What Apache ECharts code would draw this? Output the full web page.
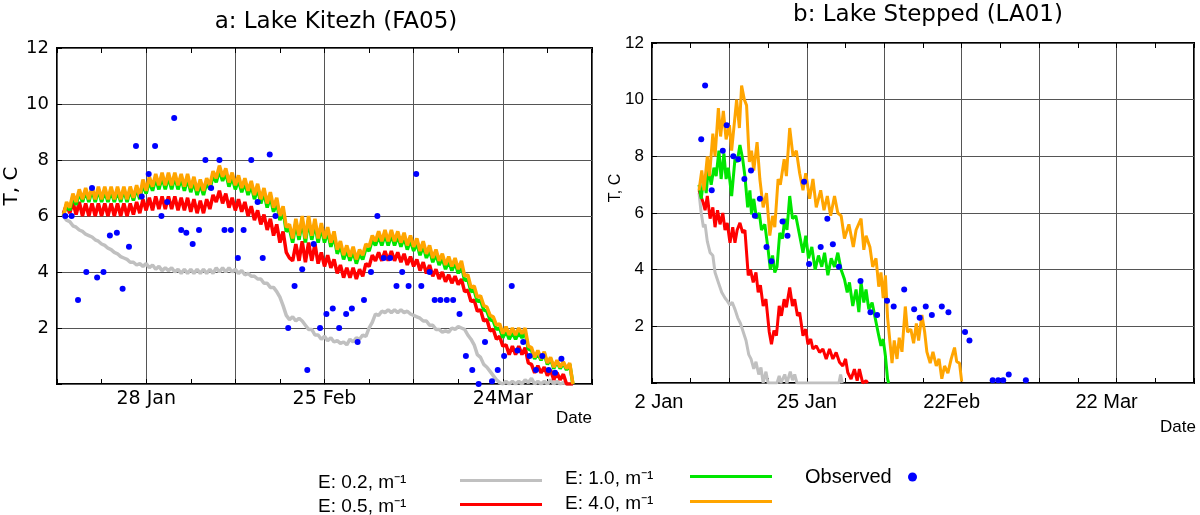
<!DOCTYPE html>
<html>
<head>
<meta charset="utf-8">
<title>Lake Kitezh / Lake Stepped</title>
<script src="https://cdn.jsdelivr.net/npm/echarts@6.0.0/dist/echarts.min.js"></script>
<style>
    html, body { margin: 0; padding: 0; background: #fff; }
    #main { width: 1200px; height: 515px; }
</style>
</head>
<body>
<div id="main"></div>
<script>
// ---- data ----
// a: Lake Kitezh, model runs sampled every half day from day 1 (day 0 = 14 Jan)
var kitezhFirstDay = 1;
var kitezhHalfDay = 0.5;
var kitezhE02 = [
    6.0,5.85,5.8,5.65,5.6,5.5,5.45,5.35,5.3,5.25,
    5.15,5.1,5.0,4.95,4.85,4.8,4.7,4.65,4.55,4.5,
    4.45,4.35,4.35,4.25,4.3,4.2,4.3,4.15,4.25,4.1,
    4.2,4.05,4.15,4.05,4.15,4.0,4.1,3.95,4.1,3.95,
    4.1,3.95,4.1,3.95,4.1,3.95,4.1,3.95,4.15,4.0,
    4.15,4.0,4.15,4.0,4.1,3.95,4.05,3.9,3.95,3.85,
    3.85,3.75,3.75,3.6,3.6,3.45,3.45,3.3,3.1,2.8,
    2.45,2.3,2.4,2.25,2.35,2.25,2.1,1.95,1.95,1.75,
    1.75,1.6,1.7,1.55,1.65,1.5,1.55,1.45,1.5,1.4,
    1.6,1.5,1.65,1.6,1.75,1.7,2.0,2.2,2.5,2.45,
    2.6,2.55,2.65,2.55,2.65,2.55,2.65,2.55,2.6,2.5,
    2.45,2.4,2.35,2.25,2.25,2.1,2.1,1.95,1.95,1.85,
    1.9,1.85,2.0,1.95,2.05,2.0,1.95,1.75,1.6,1.4,
    1.05,0.95,0.7,0.6,0.45,0.3,0.15,0.05,0.0,0.1,
    0.0,0.1,0.0,0.1,0.0,0.15,0.05,0.2,0.0,0.1,
    0.0,0.1,0.0,0.15,0.0,0.1,0.0,0.05,0.0,0.0,
    0.0
];
var kitezhE05 = [
    6.1,6.4,6.1,6.5,6.05,6.5,6.0,6.45,6.0,6.45,
    6.0,6.45,6.0,6.45,6.0,6.45,6.0,6.45,6.0,6.45,
    6.0,6.45,6.05,6.5,6.1,6.6,6.2,6.65,6.2,6.7,
    6.25,6.7,6.25,6.7,6.25,6.7,6.2,6.65,6.2,6.65,
    6.15,6.6,6.1,6.55,6.1,6.6,6.25,6.75,6.5,6.9,
    6.45,6.8,6.3,6.65,6.2,6.6,6.15,6.5,6.0,6.35,
    5.85,6.2,5.7,6.05,5.5,5.9,5.3,5.7,5.05,5.45,
    4.7,4.5,4.4,5.0,4.4,5.1,4.35,5.05,4.4,5.0,
    4.3,4.7,4.2,4.6,4.15,4.45,3.95,4.25,3.8,4.15,
    3.8,4.15,3.75,4.1,3.85,4.3,4.2,4.6,4.4,4.7,
    4.4,4.75,4.4,4.75,4.4,4.7,4.35,4.65,4.25,4.55,
    4.2,4.45,4.05,4.35,3.95,4.25,3.85,4.1,3.75,4.0,
    3.65,3.9,3.6,3.85,3.55,3.75,3.3,3.35,2.95,3.0,
    2.6,2.65,2.25,2.3,1.9,1.95,1.6,1.7,1.35,1.4,
    1.05,1.35,1.05,1.35,1.05,1.3,0.75,0.7,0.4,0.65,
    0.4,0.6,0.3,0.5,0.15,0.4,0.15,0.35,0.0,0.0,
    0.0
];
var kitezhE10 = [
    6.0,6.4,6.2,6.7,6.4,6.85,6.5,6.9,6.5,6.95,
    6.5,6.95,6.5,6.9,6.5,6.9,6.5,6.9,6.5,6.95,
    6.5,6.95,6.55,7.0,6.6,7.15,6.8,7.25,6.9,7.35,
    6.95,7.4,6.95,7.4,6.95,7.4,6.95,7.35,6.9,7.35,
    6.85,7.25,6.75,7.15,6.75,7.2,6.95,7.45,7.2,7.65,
    7.25,7.55,7.05,7.4,6.95,7.3,6.85,7.2,6.75,7.1,
    6.6,7.0,6.45,6.85,6.3,6.7,6.15,6.5,5.85,6.2,
    5.45,5.55,5.05,5.75,5.15,5.85,5.05,5.85,5.15,5.75,
    5.05,5.6,5.05,5.45,4.9,5.3,4.65,4.95,4.45,4.8,
    4.4,4.75,4.3,4.65,4.45,4.85,4.75,5.15,4.95,5.3,
    4.95,5.35,4.95,5.35,4.95,5.3,4.9,5.25,4.8,5.15,
    4.75,5.05,4.6,4.95,4.5,4.8,4.35,4.65,4.25,4.5,
    4.1,4.4,4.05,4.35,3.95,4.25,3.7,3.75,3.3,3.35,
    2.95,3.0,2.65,2.6,2.3,2.25,1.95,2.0,1.65,1.9,
    1.6,1.85,1.6,1.85,1.65,1.85,1.25,1.2,0.9,1.1,
    0.85,1.1,0.7,0.9,0.55,0.8,0.55,0.75,0.5,0.7,
    0.0
];
var kitezhE40 = [
    6.0,6.5,6.3,6.8,6.5,6.95,6.6,7.0,6.6,7.05,
    6.6,7.05,6.6,7.05,6.6,7.05,6.6,7.05,6.6,7.05,
    6.6,7.05,6.65,7.1,6.7,7.3,6.9,7.4,7.05,7.5,
    7.1,7.55,7.1,7.55,7.1,7.55,7.1,7.5,7.05,7.5,
    7.0,7.4,6.9,7.3,6.9,7.35,7.1,7.6,7.35,7.8,
    7.4,7.7,7.2,7.55,7.1,7.45,7.0,7.35,6.9,7.25,
    6.75,7.15,6.6,7.0,6.45,6.85,6.3,6.65,6.0,6.35,
    5.6,5.7,5.2,5.9,5.3,6.0,5.2,6.0,5.3,5.9,
    5.2,5.75,5.2,5.6,5.05,5.45,4.8,5.1,4.6,4.95,
    4.55,4.9,4.45,4.8,4.6,5.0,4.9,5.3,5.1,5.45,
    5.1,5.5,5.1,5.5,5.1,5.45,5.05,5.4,4.95,5.3,
    4.9,5.2,4.75,5.1,4.65,4.95,4.5,4.8,4.4,4.65,
    4.25,4.55,4.2,4.5,4.1,4.4,3.85,3.9,3.45,3.5,
    3.1,3.15,2.8,2.75,2.45,2.4,2.1,2.15,1.8,2.05,
    1.75,2.0,1.75,2.0,1.8,2.0,1.35,1.3,0.95,1.2,
    0.9,1.15,0.75,0.95,0.6,0.85,0.6,0.8,0.55,0.75,
    0.0
];
var kitezhObsDay = [
    1.3,2.3,3.3,4.6,5.5,6.3,7.3,8.3,9.4,10.3,
    11.3,12.4,13.3,14.4,15.4,16.4,17.3,18.4,19.5,20.3,
    21.3,22.3,23.3,24.2,25.5,26.3,27.3,28.4,29.3,30.5,
    31.5,32.3,33.4,34.3,36.3,37.3,38.5,39.3,40.3,41.3,
    42.3,43.3,44.3,45.4,46.3,47.2,48.2,49.3,50.3,51.3,
    52.3,53.3,54.2,55.2,56.4,57.2,58.5,59.3,60.2,61.2,
    62.2,63.2,64.2,65.2,66.2,67.2,68.3,69.2,70.2,71.4,
    72.3,73.2,74.2,75.2,76.2,77.2,78.2,79.2
];
var kitezhObsT = [
    6.0,6.0,3.0,4.0,7.0,3.8,4.0,5.3,5.4,3.4,
    4.9,8.5,6.7,7.5,8.5,6.0,6.5,9.5,5.5,5.4,
    5.0,5.5,8.0,7.0,8.0,5.5,5.5,4.5,5.5,8.0,
    6.5,4.5,8.2,6.0,2.0,3.5,4.1,0.5,5.0,2.0,
    2.5,2.7,2.0,2.5,2.7,1.5,3.0,4.0,6.0,4.5,
    4.5,3.5,4.0,3.5,7.5,3.5,4.0,3.0,3.0,3.0,
    3.0,2.5,1.0,0.5,0.0,1.5,0.1,0.5,1.0,3.5,
    1.2,1.5,1.0,0.5,1.0,0.5,0.4,0.9
];
var kitezhLabelDays = [14, 42, 70];
var kitezhLabelText = ['28 Jan', '25 Feb', '24Mar'];

// b: Lake Stepped, [day, T] turning points of the model runs
var steppedE02 = [[8.5,6.7],[8.9,6.0],[9.3,5.5],[9.6,5.6],[10.0,5.0],[10.5,4.6],[11.0,4.5],[11.4,3.9],
    [12.0,3.55],[12.6,3.2],[13.2,3.0],[13.6,2.9],[14.1,2.75],[14.5,2.85],[15.0,2.6],[15.5,2.3],[16.0,2.1],
    [16.5,1.8],[17.0,1.5],[17.5,1.0],[17.9,0.85],[18.4,0.5],[18.8,0.75],[19.3,0.3],[19.7,0.55],[20.1,0.0],
    [20.6,0.4],[21.0,0.0],[22.6,0.0],[23.0,0.25],[23.3,0.0],[24.0,0.3],[24.4,0.0],[25.0,0.4],[25.4,0.1],
    [25.8,0.3],[26.2,0.0],[33.8,0.0],[34.1,0.3],[34.4,0.0]];
var steppedE05 = [[8.5,6.8],[9.2,6.4],[9.6,6.1],[10.0,6.6],[10.5,5.8],[11.0,6.2],[11.4,5.5],[11.85,6.1],
    [12.3,5.6],[12.8,6.0],[13.2,5.4],[13.6,5.65],[14.1,4.95],[14.6,5.5],[15.0,4.95],[15.4,5.4],[15.9,5.65],
    [16.4,5.3],[16.8,5.4],[17.4,3.8],[17.8,4.0],[18.3,3.55],[18.8,3.9],[19.2,3.2],[19.6,3.45],[20.1,2.72],
    [20.6,2.96],[21.2,1.8],[21.6,1.37],[22.05,1.85],[22.5,1.67],[23.0,2.72],[23.4,2.37],[23.9,2.96],
    [24.3,2.67],[24.9,3.37],[25.4,2.72],[25.8,2.96],[26.3,2.37],[26.7,2.49],[27.3,1.67],[27.8,1.9],
    [28.2,1.37],[28.7,1.55],[29.1,1.2],[29.7,1.31],[30.3,1.08],[30.9,1.2],[31.5,0.85],[32.1,1.2],
    [32.7,0.85],[33.3,1.08],[33.9,0.73],[34.5,0.6],[35.0,0.85],[35.4,0.37],[36.0,0.14],[36.6,0.49],
    [37.1,0.08],[37.5,0.49],[38.1,0.0],[38.7,0.08],[39.0,0.0]];
var steppedE10 = [[8.5,7.0],[8.9,6.5],[9.4,7.3],[9.8,6.7],[10.2,7.6],[10.7,7.0],[11.2,7.6],[11.6,7.3],
    [12.1,8.2],[12.5,7.2],[13.0,8.1],[13.4,7.2],[13.8,7.6],[14.4,6.6],[15.0,7.9],[15.4,7.8],[15.9,8.4],
    [16.4,7.9],[16.8,7.3],[17.3,6.2],[17.7,6.8],[18.0,5.95],[18.4,6.5],[18.9,5.8],[19.4,6.0],[19.8,5.4],
    [20.4,5.6],[21.0,4.7],[21.4,4.0],[21.8,4.5],[22.2,3.9],[22.6,4.1],[23.1,5.3],[23.6,5.1],[24.0,5.8],
    [24.4,5.4],[24.9,6.6],[25.4,5.8],[26.0,5.9],[26.6,5.3],[27.3,4.6],[27.8,5.2],[28.3,4.4],[28.9,4.8],
    [29.5,4.0],[30.1,4.5],[30.7,4.1],[31.2,4.6],[31.8,3.8],[32.4,4.4],[33.0,4.1],[33.6,4.6],[34.2,4.0],
    [34.8,3.66],[35.3,3.2],[35.7,3.55],[36.3,2.72],[36.9,3.3],[37.4,2.5],[37.8,3.55],[38.3,2.84],
    [38.7,3.3],[39.2,2.6],[39.8,2.84],[40.4,2.25],[41.0,1.67],[41.4,1.31],[41.8,1.55],[42.2,0.96],
    [42.6,0.14],[42.8,0.0]];
var steppedE40 = [[8.5,6.8],[9.0,7.5],[9.4,6.8],[10.0,8.0],[10.4,7.3],[11.0,8.8],[11.4,8.0],[12.0,9.7],
    [12.4,8.7],[12.9,9.6],[13.4,8.6],[14.0,9.1],[14.4,8.2],[15.3,10.0],[15.8,9.0],[16.2,10.5],[16.7,10.0],
    [17.1,9.8],[17.6,7.8],[18.0,8.2],[18.4,7.5],[19.0,8.5],[19.5,7.2],[20.1,6.2],[20.7,6.7],[21.3,5.2],
    [21.8,5.9],[22.2,5.5],[22.8,7.2],[23.2,7.0],[23.9,7.9],[24.3,7.3],[24.9,9.0],[25.5,8.0],[26.1,8.2],
    [26.7,7.4],[27.3,6.8],[27.8,7.4],[28.5,6.5],[29.1,7.2],[29.7,6.2],[30.5,6.8],[31.1,6.1],[31.7,6.6],
    [32.3,5.9],[33.0,6.6],[33.6,6.0],[34.2,5.9],[34.8,5.1],[35.6,5.6],[36.4,4.8],[36.9,5.4],[37.8,5.8],
    [38.3,4.7],[38.7,5.2],[39.4,4.8],[39.9,4.1],[40.5,4.4],[41.0,3.4],[41.4,3.9],[41.8,3.0],[42.2,3.8],
    [42.6,2.3],[43.1,1.3],[43.4,0.7],[43.8,1.5],[44.3,0.85],[44.7,1.6],[45.2,1.1],[45.8,2.7],[46.2,1.8],
    [46.8,1.9],[47.3,1.4],[47.8,2.1],[48.2,1.5],[48.8,2.4],[49.3,1.8],[49.7,1.1],[50.3,0.7],[50.8,1.1],
    [51.4,0.6],[51.9,0.85],[52.4,0.15],[52.9,0.6],[53.5,0.35],[54.1,0.85],[54.7,1.25],[55.1,0.75],
    [55.6,0.7],[56.0,0.05]];
var steppedObsDay = [
    8.9,9.6,10.8,12.8,13.5,14.7,15.6,16.7,17.9,18.6,
    19.5,20.7,21.6,23.6,24.5,27.5,28.4,30.5,31.7,32.7,
    33.8,37.7,39.5,40.7,42.5,43.7,45.6,47.4,48.4,49.5,
    50.6,52.4,53.6,56.6,57.4,61.6,62.6,63.5,64.5,67.6
];
var steppedObsT = [
    8.6,10.5,6.8,8.2,9.1,8.0,7.9,7.2,7.5,5.9,
    6.5,4.8,4.3,5.7,5.2,7.1,4.2,4.8,5.8,4.9,
    4.1,3.6,2.5,2.4,2.9,2.7,3.3,2.6,2.3,2.7,
    2.4,2.7,2.5,1.8,1.5,0.1,0.1,0.1,0.3,0.1
];
var steppedLabelDays = [0, 28, 56, 84];
var steppedLabelText = ['2 Jan', '25 Jan', '22Feb', '22 Mar'];

var seriesNames = ['E: 0.2, m\u207B\u00B9', 'E: 0.5, m\u207B\u00B9', 'E: 1.0, m\u207B\u00B9', 'E: 4.0, m\u207B\u00B9'];
var obsName = 'Observed';

// ---- chart ----
var lineColors = ['#c0c0c0', '#ff0000', '#00e600', '#ffa500'];
var dejavu = '"DejaVu Sans", sans-serif';
var liberation = '"Liberation Sans", Arial, sans-serif';

var halfDaySeries = function (values) {
    return values.map(function (v, i) {
        return [kitezhFirstDay + i * kitezhHalfDay, v];
    });
};
var pairSeries = function (xs, ys) {
    return xs.map(function (x, i) { return [x, ys[i]]; });
};

var xAxisFor = function (gridIndex, max, labelFn, labelStyle) {
    return {
        type: 'value', gridIndex: gridIndex, position: 'bottom',
        min: 0, max: max, interval: 14,
        axisLine: { show: false },
        axisTick: { show: true, inside: true, length: 5, lineStyle: { color: '#000' } },
        minorTick: { show: true, splitNumber: 2, length: 5, lineStyle: { color: '#000' } },
        splitLine: { show: true, lineStyle: { color: '#555', width: 1 } },
        axisLabel: Object.assign({ showMinLabel: true, showMaxLabel: true, formatter: labelFn }, labelStyle)
    };
};
var topAxisFor = function (gridIndex, max) {
    return {
        type: 'value', gridIndex: gridIndex, position: 'top',
        min: 0, max: max, interval: 14,
        axisLine: { show: false },
        axisTick: { show: true, inside: true, length: 5, lineStyle: { color: '#000' } },
        minorTick: { show: true, splitNumber: 2, length: 5, lineStyle: { color: '#000' } },
        splitLine: { show: false },
        axisLabel: { show: false }
    };
};
var yAxisFor = function (gridIndex, labelStyle) {
    return {
        type: 'value', gridIndex: gridIndex,
        min: 0, max: 12, interval: 2,
        axisLine: { show: false },
        axisTick: { show: true, inside: true, length: 5, lineStyle: { color: '#000' } },
        splitLine: { show: true, lineStyle: { color: '#555', width: 1 } },
        axisLabel: Object.assign({
            formatter: function (v) { return v === 0 ? '' : String(v); }
        }, labelStyle)
    };
};

// model lines + observed dots for one panel
var panelSeries = function (axisIndex, lines, obs, lineWidth) {
    var out = [];
    lines.forEach(function (data, k) {
        out.push({
            name: seriesNames[k], type: 'line',
            xAxisIndex: axisIndex, yAxisIndex: axisIndex,
            data: data, symbol: 'none', showSymbol: false,
            lineStyle: { color: lineColors[k], width: lineWidth },
            itemStyle: { color: lineColors[k] },
            z: 2 + k
        });
    });
    out.push({
        name: obsName, type: 'scatter',
        xAxisIndex: axisIndex, yAxisIndex: axisIndex,
        data: obs, symbol: 'circle', symbolSize: 6,
        itemStyle: { color: '#0000ff', opacity: 1 }, z: 10
    });
    return out;
};

var steppedShift = { 0: 'r', 56: 'l', 84: 'l' };

var legendText = function (w, size, padTop) {
    return { fontFamily: liberation, fontSize: size, color: '#000',
        rich: { t: { width: w, align: 'left', fontFamily: liberation, fontSize: size, lineHeight: 20,
            padding: [padTop, 0, 0, 0] } } };
};
var lineLegend = function (names, left, top, textWidth, gap) {
    return {
        data: names.map(function (n) { return { name: n, icon: 'rect' }; }),
        orient: 'vertical', left: left, top: top, height: 80, padding: 0,
        align: 'right', itemWidth: 82, itemHeight: 3, itemGap: gap,
        formatter: '{t|{name}}', textStyle: legendText(textWidth, 19, 4), selectedMode: false
    };
};

var option = {
    backgroundColor: '#fff',
    animation: false,
    grid: [
        { left: 57, right: 608, top: 48, bottom: 131, show: true, borderColor: '#000', borderWidth: 2, backgroundColor: 'transparent' },
        { left: 652, right: 6, top: 43, bottom: 132, show: true, borderColor: '#000', borderWidth: 2, backgroundColor: 'transparent' }
    ],
    xAxis: [
        xAxisFor(0, 84, function (v) {
            var i = kitezhLabelDays.indexOf(v);
            return i < 0 ? '' : kitezhLabelText[i];
        }, { fontFamily: dejavu, fontSize: 19, color: '#000', margin: 6 }),
        xAxisFor(1, 98, function (v) {
            var i = steppedLabelDays.indexOf(v);
            if (i < 0) return '';
            return '{' + (steppedShift[v] || 'c') + '|' + steppedLabelText[i] + '}';
        }, { fontFamily: liberation, fontSize: 20, color: '#000', margin: 9,
            rich: {
                c: { fontFamily: liberation, fontSize: 20, color: '#000' },
                r: { fontFamily: liberation, fontSize: 20, color: '#000', padding: [0, 0, 0, 14] },
                l: { fontFamily: liberation, fontSize: 20, color: '#000', padding: [0, 20, 0, 0] }
            } }),
        topAxisFor(0, 84),
        topAxisFor(1, 98)
    ],
    yAxis: [
        yAxisFor(0, { fontFamily: dejavu, fontSize: 18, color: '#000', margin: 8 }),
        yAxisFor(1, { fontFamily: liberation, fontSize: 17, color: '#000', margin: 8 })
    ],
    legend: [
        lineLegend([seriesNames[0], seriesNames[1]], 318, 469, 137, 1),
        lineLegend([seriesNames[2], seriesNames[3]], 565, 465, 120, 2),
        {
            data: [{ name: obsName, icon: 'circle' }], orient: 'vertical', left: 805, top: 467,
            height: 40, padding: 0,
            align: 'right', itemWidth: 9, itemHeight: 9,
            formatter: '{t|{name}}', selectedMode: false,
            textStyle: legendText(98, 20, 0)
        }
    ],
    graphic: [
        { type: 'text', x: 336, y: 22, style: { text: 'a: Lake Kitezh (FA05)', font: '23px ' + dejavu, fill: '#000', align: 'center', verticalAlign: 'middle', textAlign: 'center', textVerticalAlign: 'middle' } },
        { type: 'text', x: 928, y: 15, style: { text: 'b: Lake Stepped (LA01)', font: '23px ' + dejavu, fill: '#000', align: 'center', verticalAlign: 'middle', textAlign: 'center', textVerticalAlign: 'middle' } },
        { type: 'text', x: 12, y: 186, rotation: Math.PI / 2, style: { text: 'T, C', font: '20px ' + dejavu, fill: '#000', align: 'center', verticalAlign: 'middle', textAlign: 'center', textVerticalAlign: 'middle' } },
        { type: 'text', x: 616, y: 188, rotation: Math.PI / 2, style: { text: 'T, C', font: '16px ' + liberation, fill: '#000', align: 'center', verticalAlign: 'middle', textAlign: 'center', textVerticalAlign: 'middle' } },
        { type: 'text', x: 556, y: 418, style: { text: 'Date', font: '17px ' + liberation, fill: '#000', align: 'left', verticalAlign: 'middle', textAlign: 'left', textVerticalAlign: 'middle' } },
        { type: 'text', x: 1160, y: 427, style: { text: 'Date', font: '17px ' + liberation, fill: '#000', align: 'left', verticalAlign: 'middle', textAlign: 'left', textVerticalAlign: 'middle' } }
    ],
    series: [].concat(
        panelSeries(0,
            [halfDaySeries(kitezhE02), halfDaySeries(kitezhE05), halfDaySeries(kitezhE10), halfDaySeries(kitezhE40)],
            pairSeries(kitezhObsDay, kitezhObsT), 3.5),
        panelSeries(1,
            [steppedE02, steppedE05, steppedE10, steppedE40],
            pairSeries(steppedObsDay, steppedObsT), 3)
    )
};

var myChart = echarts.init(document.getElementById('main'));
myChart.setOption(option);
</script>
</body>
</html>
